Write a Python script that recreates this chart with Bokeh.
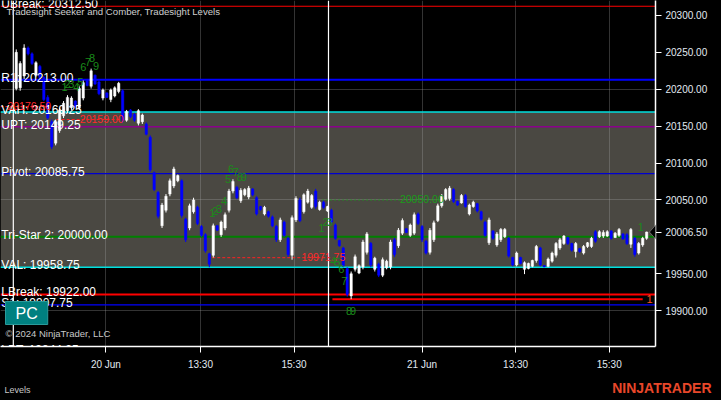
from bokeh.plotting import figure
from bokeh.layouts import column
from bokeh.models import (Range1d, FixedTicker, PrintfTickFormatter,
                          Span, BoxAnnotation, Label, ColumnDataSource, PolyAnnotation)
from bokeh.core.properties import value
from bokeh.embed import file_html
from bokeh.resources import INLINE

# ---------------- data ----------------
opens = [20201,20202,20218,20256,20248,20219,20231,20216,20189,20156,
         20127,20144,20164,20171,20175,20184,20175,20188,20212,20204,
         20219,20210,20188,20195,20186,20191,20197,20198,20158,20172,
         20166,20154,20156,20153,20135,20087,20060,20015,20036,20058,
         20069,20076,20076,20024,20012,20034,20040,20014,20003,19977,
         19975,20015,20003,20012,20036,20062,20067,20049,20057,20054,
         20065,20053,20041,20031,20034,20027,20014,19996,20020,19998,
         19975,20023,20050,20034,20047,20040,20062,20037,20047,20035,
         20036,20016,19995,19985,19957,19920,19956,19951,19959,19979,
         19991,19956,19963,19948,19958,19959,19996,19988,20005,20011,
         20002,20005,20031,20014,19994,19979,19996,20022,20042,20051,
         20052,20064,20048,20046,20056,20031,20041,20045,20034,20020,
         19992,20008,19989,19996,20000,19998,19972,19962,19972,19956,
         19957,19960,19968,19985,19961,19960,19967,19975,19985,19991,
         19999,19991,19980,19984,19978,19987,19987,20007,20000,20001,
         20001,20008,19999,20002,20004,20003,19990,19998,19978,19989,
         19998]
highs = [20254,20238,20261,20258,20250,20238,20233,20218,20192,20159,
         20159,20175,20184,20192,20190.5,20185,20204,20212,20214,20228,
         20220,20212,20201,20196,20201,20204,20210,20200,20172,20173,
         20168,20173,20167,20155,20137.5,20088.5,20062,20046,20058,20079,
         20095,20084.5,20078,20026,20045,20053,20042,20016,20005,19978.5,
         20018,20016,20022,20033,20065,20078,20069,20066,20066,20069,
         20066,20055,20042,20042,20035.5,20029,20016,20026,20022,20000,
         20029,20055,20053,20059,20065,20058,20065,20049,20049,20042,
         20038,20018,19996,19986.5,19958.75,19953,19976,19962.75,19996,20006.5,
         19993,19973,19965,19972,19969,19996,19998.5,20012,20025,20012,
         20018,20033,20033,20016,19996,20012,20022,20045,20058,20066,
         20069,20066,20049,20058,20058,20045,20049,20046,20035.5,20022,
         20026,20009,20006.5,20012,20012,20000,19973,19980,19973,19966.75,
         19965,19969,19989,19986.5,19961.5,19972,19980,19993,19998.5,20002.5,
         20000,19992,19993,19985,19989,19993,20000,20009,20009,20009,
         20009,20009,20006.5,20012,20005,20005,20012,20000,19993,20000,
         20007]
lows = [20198.5,20198,20214,20246,20233,20217,20214,20184,20159,20119,
        20124,20141,20161,20168,20172,20174.5,20172,20185,20204,20201,
        20206,20192,20185,20188,20182.5,20189,20194.5,20155,20156,20161,
        20156,20151,20153,20137.5,20088.5,20062,20025,20012,20033,20055,
        20066,20074,20026,19993,20009,20031.5,20016,20000,19978.5,19958.75,
        19972,20008,20000,20009,20033,20059,20051,20046,20055,20051,
        20055,20029,20035.5,20029,20026,20013,19993,19993,20000,19973,
        19969,20020,20020,20031.5,20045,20038,20038,20035.5,20038,20034,
        20018,19996,19986.5,19958.75,19919,19915.5,19953,19949.5,19956,19976,
        19958.75,19953,19945.5,19945.5,19956,19956,19973,19985,20002.5,20005,
        20000,20002.5,20016,19993,19976,19976,19993,20020,20039.5,20049,
        20049,20046,20042,20045,20039.5,20029,20039.5,20033,20022,20000,
        19989,19996,19986.5,19993,19998.5,19972,19960,19960,19962.75,19949.5,
        19956,19958.75,19965,19960,19958.75,19958.75,19965,19972,19982.5,19989,
        19989,19980,19972,19978.5,19976,19985,19985,19992,19998.5,19998.5,
        20000,19996,19998.5,20000,19996,19989,19985,19973,19976,19986.5,
        19996]
closes = [20250,20235,20256,20248,20235,20236,20216,20186,20161,20122,
          20156,20172,20181,20189,20188,20176,20201,20209,20205,20225,
          20207,20194,20199,20189,20199,20202,20208,20158,20170,20163,
          20158,20171,20165,20139,20091,20064,20028,20043,20055,20076,
          20092,20083,20029,19996,20042,20050,20018,20002,19981,19963,
          20015,20009,20020,20030,20062,20075,20053,20063,20064,20066,
          20057,20031,20037,20040,20028,20015,19996,20023,20002,19976,
          20026,20052,20022,20057,20062,20056,20041,20047,20040,20041,
          20020,19998,19988,19961,19922,19950,19973,19961,19993,20004,
          19962,19971,19948,19969,19967,19993,19976,20009,20022,20006,
          20016,20030,20018,19996,19978,20009,20019,20042,20055,20064,
          20066,20048,20043,20056,20041,20043,20047,20035,20024,20002,
          20023,19998,20004,20010,20010,19974,19962,19978,19964,19965,
          19964,19968,19987,19962,19959.5,19970,19978,19991,19996,20001,
          19991,19982,19991,19980,19987,19992,19998,19994,20007,20006,
          20007,19998,20005,20010,19997,19991,20010,19976,19991,19998,
          20006.5]

tick_pos = [22.75, 46.75, 70.5, 103, 126.75, 150.5]
tick_labels = ["20 Jun", "13:30", "15:30", "21 Jun", "13:30", "15:30"]
price_ticks = [19900, 19950, 20050, 20100, 20150, 20200, 20250, 20300]
grid_prices = [19900, 20050, 20200]
session_breaks = [-0.75, 79.25]

level_names = ["UBreak", "R1", "VAH", "UPT", "Pivot", "Tri-Star 2", "VAL", "LBreak", "S1", "LPT"]
level_values = [20312.50, 20213.00, 20169.25, 20149.25, 20085.75, 20000.00, 19958.75, 19922.00, 19907.75, 19844.25]
value_area = [19958.75, 20169.25]

red_dash_x0 = [-4, 10.25, 49.75]
red_dash_x1 = [8, 27.25, 80.25]
red_dash_y = [20176.50, 20159.00, 19971.75]
green_dot_x0 = [77.75]
green_dot_x1 = [108.5]
green_dot_y = [20050.00]
low_line_x0 = [80.25]
low_line_x1 = [159.0]
low_line_y = [19915.5]

seek_x = [12.25, 13, 14, 15.25, 16.25, 17, 18.25, 19.25, 20.25,
          49.75, 50.5, 51.5, 52.75, 53.75, 54.5, 55.75, 56.75, 57.75,
          77.5, 78.5, 79.5, 80.5, 81.5, 82.5, 83.25, 84.5, 85.5,
          158.5]
seek_y = [20203.7, 20207.7, 20207.7, 20203.7, 20210.4, 20230.2, 20236.9, 20242.2, 20231.6,
          20032.9, 20035.5, 20038.2, 20048.8, 20077.9, 20092.5, 20088.5, 20080.6, 20080.6,
          20011.7, 20019.6, 20019.6, 19966.7, 19965.3, 19956.1, 19940.2, 19899.1, 19899.1,
          20013.0]
seek_t = ["1", "2", "3", "4", "5", "6", "7", "8", "9"] * 3 + ["1"]

last_price = 20006.50

# ---------------- styles ----------------
FONT = "Liberation Sans"
level_colors = ["#ff0000", "#0000ff", "#00e0e0", "#8b008b", "#0000d0",
                "#008000", "#00e0e0", "#ff0000", "#0000ff", "#0000ff"]
level_widths = [1.2, 2, 1.5, 1.5, 1.2, 2, 1.5, 2, 1.2, 1]
FW, FH = 655, 346
RB = 58
Y0, Y1 = 19851.4, 20320.3

p = figure(frame_width=FW, frame_height=FH, output_backend="svg", toolbar_location=None,
           x_range=Range1d(-4, 162.25), y_range=Range1d(Y0, Y1),
           y_axis_location="right", min_border_left=0, min_border_top=0,
           min_border_bottom=24, min_border_right=RB,
           background_fill_color="black", border_fill_color="black",
           outline_line_color=None)

for ax in (p.xaxis[0], p.yaxis[0]):
    ax.axis_line_color = "white"
    ax.axis_line_width = 1.5
    ax.major_tick_line_color = "white"
    ax.major_tick_out = 6
    ax.major_tick_in = 0
    ax.minor_tick_line_color = None
    ax.major_label_text_color = "#e2eaf2"
    ax.major_label_text_font = FONT
    ax.major_label_text_font_size = "10px"

p.yaxis.ticker = FixedTicker(ticks=price_ticks + [last_price])
p.yaxis.formatter = PrintfTickFormatter(format="%.2f")
p.yaxis.major_label_standoff = 4
p.xaxis.ticker = FixedTicker(ticks=tick_pos)
p.xaxis.major_label_overrides = {t: l for t, l in zip(tick_pos, tick_labels)}
p.xaxis.major_label_standoff = 6

p.xgrid.ticker = FixedTicker(ticks=tick_pos)
p.ygrid.ticker = FixedTicker(ticks=grid_prices)
for g in (p.xgrid[0], p.ygrid[0]):
    g.grid_line_color = "#a8a8a8"
    g.grid_line_alpha = 0.3

p.add_layout(BoxAnnotation(bottom=value_area[0], top=value_area[1], fill_color="#4a4842",
                           fill_alpha=1, line_color=None, level="image"))

for v, c, w in zip(level_values, level_colors, level_widths):
    p.add_layout(Span(location=v, dimension="width", line_color=c, line_width=w, level="underlay"))

for s in session_breaks:
    p.add_layout(Span(location=s, dimension="height", line_color="white", line_width=1.2, level="underlay"))

p.segment(red_dash_x0, red_dash_y, red_dash_x1, red_dash_y, line_color="#ff2020",
          line_width=1, line_dash="3 2")
p.segment(green_dot_x0, green_dot_y, green_dot_x1, green_dot_y, line_color="#1a9a1a",
          line_width=1.5, line_dash="1 3")
p.segment(low_line_x0, low_line_y, low_line_x1, low_line_y, line_color="#ff0000", line_width=2)

idx = list(range(len(opens)))
colors = ["white" if c >= o else "#0000ff" for o, c in zip(opens, closes)]
src = ColumnDataSource(dict(x=idx, o=opens, h=highs, l=lows, c=closes,
                            top=[max(o, c) for o, c in zip(opens, closes)],
                            bot=[min(o, c) for o, c in zip(opens, closes)],
                            color=colors))
p.segment("x", "h", "x", "l", source=src, line_color="color", line_width=1)
p.vbar("x", 0.6, "top", "bot", source=src, fill_color="color", line_color="color", line_width=0.5)

p.text(x=[-3.8] * len(level_values), y=level_values,
       text=[f"{n}: {v:.2f}" for n, v in zip(level_names, level_values)],
       text_color="white", text_font=value(FONT), text_font_size="12px",
       text_baseline="alphabetic", text_align="left", y_offset=-2)

p.text(x=[-2.25], y=[red_dash_y[0]], text=[f"{red_dash_y[0]:.2f}"], text_color="#ff2a2a",
       text_font=value(FONT), text_font_size="10.5px", text_baseline="alphabetic", y_offset=-1)
p.text(x=[red_dash_x1[1], 83.5], y=red_dash_y[1:], text=[f"{v:.2f}" for v in red_dash_y[1:]],
       text_color="#ff2a2a", text_font=value(FONT), text_font_size="10.5px",
       text_baseline="alphabetic", text_align="right", y_offset=-1)
p.text(x=green_dot_x1, y=green_dot_y, text=[f"{v:.2f}" for v in green_dot_y],
       text_color="#1a9a1a", text_font=value(FONT), text_font_size="10.5px",
       text_baseline="alphabetic", text_align="right", y_offset=-1)
p.text(x=[160.75], y=low_line_y, text=["1"], text_color="#ff5020",
       text_font=value(FONT), text_font_size="11px", text_baseline="middle", text_align="center")

p.text(x=seek_x, y=seek_y, text=seek_t, text_color="#1a8a1a", text_font=value(FONT),
       text_font_size="11px", text_align="center", text_baseline="middle")

p.add_layout(Label(x=6, y=FH - 5, x_units="screen", y_units="screen",
                   text="Tradesight Seeker and Comber, Tradesight Levels",
                   text_color="#cfcfcf", text_font=FONT, text_font_size="9.6px",
                   text_baseline="top"))
p.add_layout(Label(x=5, y=13, x_units="screen", y_units="screen", text="© 2024 NinjaTrader, LLC",
                   text_color="#c8c8c8", text_font=FONT, text_font_size="9.5px",
                   text_baseline="middle"))
p.add_layout(Label(x=5, y=22, x_units="screen", y_units="screen", text="PC",
                   text_color="white", text_font=FONT, text_font_size="16px",
                   text_baseline="bottom", background_fill_color="#008080",
                   border_line_color="#2a9a9a",
                   padding=dict(left=10, right=10, top=3, bottom=3)))

half = 8 * (Y1 - Y0) / FH
p.add_layout(PolyAnnotation(xs=[FW - 6, FW + 1, FW + 1], xs_units="screen",
                            ys=[last_price, last_price + half, last_price - half], ys_units="data",
                            fill_color="black", fill_alpha=1, line_color="white",
                            line_width=1, level="overlay"))

# footer strip
FOOT_H = 22
foot = figure(frame_width=FW + RB, frame_height=FOOT_H, output_backend="svg", toolbar_location=None,
              x_range=Range1d(0, FW + RB), y_range=Range1d(0, FOOT_H),
              min_border_left=0, min_border_right=0, min_border_top=0, min_border_bottom=0,
              background_fill_color="black", border_fill_color="black", outline_line_color=None)
foot.axis.visible = False
foot.grid.visible = False
foot.add_layout(Label(x=4, y=5, text="Levels", text_color="#c8c8c8", text_font=FONT,
                      text_font_size="9px", text_baseline="middle"))
foot.add_layout(Label(x=FW + RB - 2, y=7, text="NINJATRADER", text_color="#e8472a",
                      text_font=FONT, text_font_size="14px", text_font_style="bold",
                      text_align="right", text_baseline="middle"))

layout = column(p, foot, spacing=0)
open("out.html", "w").write(file_html(layout, INLINE,
                                      template="{% block preamble %}<style>body{background:#000;}</style>{% endblock %}"))
